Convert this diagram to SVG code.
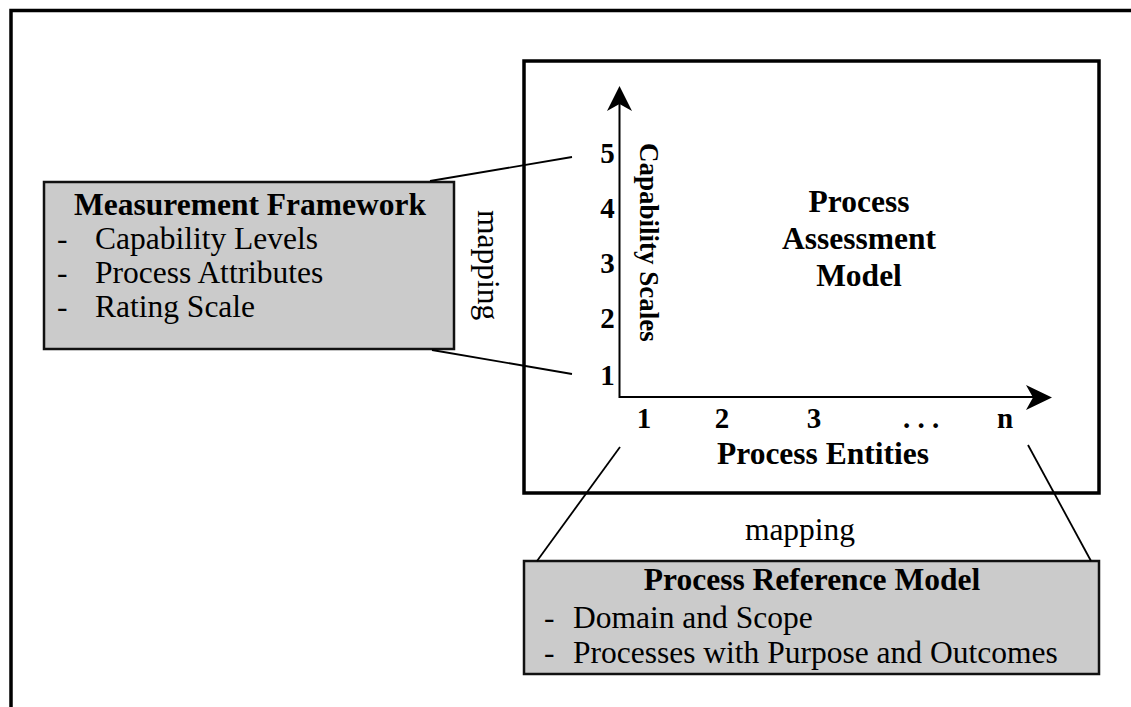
<svg xmlns="http://www.w3.org/2000/svg" width="1131" height="707" viewBox="0 0 1131 707">
  <defs>
    <style>
      .frame { fill: none; stroke: #000; stroke-width: 3.5; }
      .box { fill: #cbcbcb; stroke: #111; stroke-width: 2.5; }
      .axis { fill: none; stroke: #000; stroke-width: 2; }
      .link { fill: none; stroke: #000; stroke-width: 1.8; }
      .head { fill: #000; stroke: none; }
      .serif { font-family: "Liberation Serif", "Times New Roman", serif; fill: #000; }
      .b { font-weight: bold; }
      .big { font-size: 31.5px; }
      .num { font-size: 29px; font-weight: bold; }
      .mid { text-anchor: middle; }
    </style>
  </defs>
  <rect width="1131" height="707" fill="#fff"/>

  <!-- outer frame: top and left edges -->
  <path class="frame" d="M11,707 V10.5 H1131"/>

  <!-- assessment model panel with axes -->
  <g id="assessment-model">
    <rect class="frame" x="524" y="61" width="575" height="432"/>
    <path class="axis" d="M619.5,104 V397 H1035"/>
    <path class="head" d="M619.5,86 L632,111 L619.5,104 L607,111 Z"/>
    <path class="head" d="M1052,397.5 L1026,385 L1033,397.5 L1026,410 Z"/>
    <g class="serif num mid">
      <text x="607.5" y="163">5</text>
      <text x="607.5" y="218">4</text>
      <text x="607.5" y="273">3</text>
      <text x="607.5" y="328">2</text>
      <text x="607.5" y="385">1</text>
      <text x="644" y="428">1</text>
      <text x="722" y="428">2</text>
      <text x="814" y="428">3</text>
      <text x="921" y="428">. . .</text>
      <text x="1005" y="428">n</text>
    </g>
    <text class="serif b" font-size="27" transform="translate(640,143) rotate(90)">Capability Scales</text>
    <g class="serif b big mid">
      <text x="859" y="212">Process</text>
      <text x="859" y="249">Assessment</text>
      <text x="859" y="286">Model</text>
      <text x="823" y="464">Process Entities</text>
    </g>
  </g>

  <!-- measurement framework box -->
  <g id="measurement-framework">
    <rect class="box" x="44" y="182" width="410" height="167"/>
    <g class="serif big">
      <text class="b mid" x="250" y="215">Measurement Framework</text>
      <text x="57" y="249">-</text>
      <text x="95" y="249">Capability Levels</text>
      <text x="57" y="283">-</text>
      <text x="95" y="283">Process Attributes</text>
      <text x="57" y="317">-</text>
      <text x="95" y="317">Rating Scale</text>
    </g>
  </g>

  <!-- process reference model box -->
  <g id="process-reference-model">
    <rect class="box" x="524" y="561" width="575" height="113"/>
    <g class="serif big">
      <text class="b mid" x="812" y="590">Process Reference Model</text>
      <text x="544" y="628">-</text>
      <text x="573" y="628">Domain and Scope</text>
      <text x="544" y="663">-</text>
      <text x="573" y="663">Processes with Purpose and Outcomes</text>
    </g>
  </g>

  <!-- mapping connectors and labels -->
  <g id="connectors">
    <path class="link" d="M430,181 L572,157"/>
    <path class="link" d="M432,350 L572,374"/>
    <path class="link" d="M620,447 L537,561"/>
    <path class="link" d="M1028,445 L1091,561"/>
    <text class="serif big" transform="translate(478,210) rotate(90)">mapping</text>
    <text class="serif big mid" x="800" y="540">mapping</text>
  </g>
</svg>
